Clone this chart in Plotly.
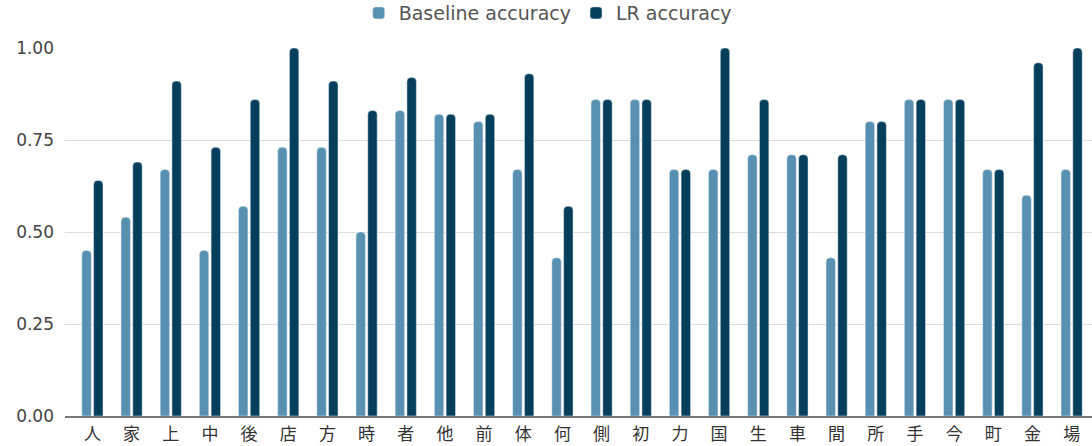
import plotly.graph_objects as go

categories = ["人", "家", "上", "中", "後", "店", "方", "時", "者", "他", "前", "体", "何",
              "側", "初", "力", "国", "生", "車", "間", "所", "手", "今", "町", "金", "場"]
baseline = [0.45, 0.54, 0.67, 0.45, 0.57, 0.73, 0.73, 0.50, 0.83, 0.82, 0.80, 0.67, 0.43,
            0.86, 0.86, 0.67, 0.67, 0.71, 0.71, 0.43, 0.80, 0.86, 0.86, 0.67, 0.60, 0.67]
lr = [0.64, 0.69, 0.91, 0.73, 0.86, 1.00, 0.91, 0.83, 0.92, 0.82, 0.82, 0.93, 0.57,
      0.86, 0.86, 0.67, 1.00, 0.86, 0.71, 0.71, 0.80, 0.86, 0.86, 0.67, 0.96, 1.00]
y_ticks = [0, 0.25, 0.5, 0.75, 1.0]

fig = go.Figure()
fig.add_trace(go.Bar(x=categories, y=baseline, name="Baseline accuracy",
                     marker=dict(color="#5790b0", cornerradius=4)))
fig.add_trace(go.Bar(x=categories, y=lr, name="LR accuracy",
                     marker=dict(color="#063f5c", cornerradius=4)))

fig.update_layout(
    width=1092, height=446,
    margin=dict(l=65, r=0, t=48, b=30, autoexpand=False),
    paper_bgcolor="white", plot_bgcolor="white",
    barmode="group", bargap=0.4, bargroupgap=0.2,
    font=dict(family="DejaVu Sans, sans-serif", size=17, color="#444"),
    legend=dict(orientation="h", x=0.47, xanchor="center", y=1.095, yref="paper",
                yanchor="middle", font=dict(family="DejaVu Sans", size=19, color="#555"),
                itemwidth=30, tracegroupgap=0),
    showlegend=True,
)
fig.update_xaxes(range=[-0.70, 25.52], showgrid=False, showline=True, linecolor="#777",
                 linewidth=2, ticks="", ticklabelstandoff=2,
                 tickfont=dict(family="Noto Sans CJK JP", size=17, color="#333"))
fig.update_yaxes(range=[0, 1.0], tickvals=y_ticks, tickformat=".2f", showgrid=True,
                 gridcolor="#dddddd", gridwidth=1, zeroline=False, showline=False,
                 ticks="", ticklabelstandoff=10,
                 tickfont=dict(family="DejaVu Sans", size=17, color="#444"))

fig.write_html("out.html", config={"displayModeBar": False},
               post_script="document.body.style.margin='0';")
